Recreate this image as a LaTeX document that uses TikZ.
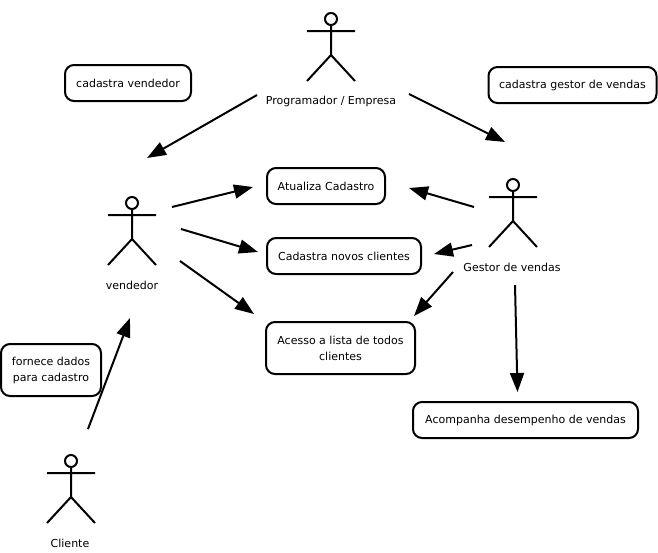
\documentclass[tikz,border=0pt]{standalone}
\usepackage{fontspec}
\setmainfont{DejaVu Sans}
\usetikzlibrary{arrows.meta}

\newcommand{\ator}[5]{%
  \node[figura] (#1) at (#2,#3+28) {};
  \draw[traco] (#2,#3) circle (6);
  \draw[traco] (#2,#3+6) -- (#2,#3+36) (#2-24,#3+12) -- (#2+24,#3+12)
    (#2-24,#3+62) -- (#2,#3+36) -- (#2+24,#3+62);
  \node[rotulo] (#1r) at (#2+#4,#3+82) {#5};
}

\begin{document}
\begin{tikzpicture} [ x=1pt, y=-1pt,
		      traco/.style={draw, line width=2pt},
		      figura/.style={minimum width=48pt, minimum height=68pt, inner sep=0pt},
		      rotulo/.style={inner sep=0pt, font=\fontsize{11}{14}\selectfont},
		      caso/.style={draw, line width=2pt, rounded corners=9pt, inner sep=0pt,
				   align=center, font=\fontsize{11}{16}\selectfont},
		      seta/.style={-{Triangle[length=19pt,width=14pt]}, line width=2pt}
		    ]
  \useasboundingbox (0,0) rectangle (658,552);

  \ator{prog}{331}{19}{0}{Programador / Empresa}
  \ator{vend}{132}{203}{0}{vendedor}
  \ator{gest}{513}{185}{-1}{Gestor de vendas}
  \ator{clie}{71}{461}{-1}{Cliente}

  \node[caso, minimum width=126pt, minimum height=36pt] (cadvend) at (128,83) {cadastra vendedor};
  \node[caso, minimum width=168pt, minimum height=36pt] (cadgest) at (572.5,85) {cadastra gestor de vendas};
  \node[caso, minimum width=118pt, minimum height=36pt] (atualiza) at (326,186) {Atualiza Cadastro};
  \node[caso, minimum width=154pt, minimum height=36pt] (novos) at (344,256) {Cadastra novos clientes};
  \node[caso, minimum width=149pt, minimum height=52pt] (acesso) at (340.5,348) {Acesso a lista de todos\\clientes};
  \node[caso, minimum width=225pt, minimum height=36pt] (acomp) at (525.5,420) {Acompanha desempenho de vendas};
  \node[caso, minimum width=100pt, minimum height=52pt] (fornece) at (51,370) {fornece dados\\para cadastro};

  \draw[seta] ([shift={(-74,48)}]prog.center) -- ([shift={(15,-73)}]vend.center);
  \draw[seta] ([shift={(78,47)}]prog.center) -- ([shift={(-8,-71)}]gest.center);
  \draw[seta] ([shift={(40,-24)}]vend.center) -- ([shift={(-13,1)}]atualiza.west);
  \draw[seta] ([shift={(49,-2)}]vend.center) -- ([shift={(-8,-4)}]novos.west);
  \draw[seta] ([shift={(48,30)}]vend.center) -- ([shift={(-11,-34)}]acesso.west);
  \draw[seta] ([shift={(-39,-6)}]gest.center) -- ([shift={(23,2)}]atualiza.east);
  \draw[seta] ([shift={(-41,32)}]gest.center) -- ([shift={(12,-2)}]novos.east);
  \draw[seta] ([shift={(-60,59)}]gest.center) -- ([shift={(-2,-32)}]acesso.east);
  \draw[seta] ([shift={(2,72)}]gest.center) -- ([shift={(-8,-9)}]acomp.north);
  \draw[seta] ([shift={(17,-60)}]clie.center) -- ([shift={(-2,87)}]vend.center);
\end{tikzpicture}
\end{document}
